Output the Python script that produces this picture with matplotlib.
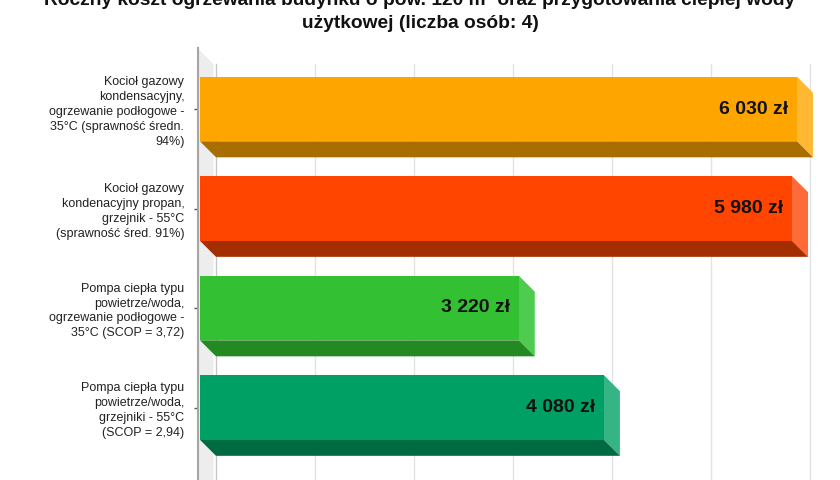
import matplotlib
matplotlib.use("Agg")
import matplotlib.pyplot as plt
from matplotlib.patches import Polygon, Rectangle

plt.rcParams['font.family'] = ['Liberation Sans', 'DejaVu Sans']

# dane
title = ("Roczny koszt ogrzewania budynku o pow. 120 m² oraz przygotowania ciepłej wody\n"
         "użytkowej (liczba osób: 4)")
labels = [
    "Kocioł gazowy\nkondensacyjny,\nogrzewanie podłogowe -\n35°C (sprawność średn.\n94%)",
    "Kocioł gazowy\nkondenacyjny propan,\ngrzejnik - 55°C\n(sprawność śred. 91%)",
    "Pompa ciepła typu\npowietrze/woda,\nogrzewanie podłogowe -\n35°C (SCOP = 3,72)",
    "Pompa ciepła typu\npowietrze/woda,\ngrzejniki - 55°C\n(SCOP = 2,94)",
]
values = [6030, 5980, 3220, 4080]
value_text = ["6 030 zł", "5 980 zł", "3 220 zł", "4 080 zł"]
grid_values = [0, 1000, 2000, 3000, 4000, 5000, 6000]

front_col = ['#FFA500', '#FF4500', '#33C133', '#00A064']
bottom_col = ['#A86E00', '#A32E00', '#238A23', '#006B42']
side_col = ['#FFB833', '#FF6B38', '#4FCC4F', '#35B585']

# uklad (piksele -> jednostki danych)
px_x = 0.099          # px na jednostke osi X
px_y = 99.5           # px na kategorie
depth_x = 16 / px_x
depth_y = 16 / px_y
half_h = 0.325

fig = plt.figure(figsize=(8.4, 4.8), dpi=100)
ax = fig.add_axes([197.5 / 840, 0, (840 - 197.5) / 840, (480 - 48) / 480])
x0 = -2.5 / px_x
x1 = (840 - 200) / px_x
ytop = (48 - 109) / px_y
ybot = (480 - 109) / px_y
ax.set_xlim(x0, x1)
ax.set_ylim(ybot, ytop)

# sciana boczna
ax.add_patch(Polygon([(x0, ytop), (x0 + depth_x, ytop + depth_y),
                      (x0 + depth_x, ybot), (x0, ybot)],
                     closed=True, facecolor='#EDEDED', edgecolor='none', zorder=0))

# siatka na tylnej scianie
for g in grid_values:
    c = '#C8C8C8' if g == 0 else '#E2E2E2'
    ax.plot([g + depth_x, g + depth_x], [ytop + depth_y, ybot], color=c, lw=1, zorder=1)

for i, v in enumerate(values):
    top = i - half_h
    bot = i + half_h
    ax.add_patch(Polygon([(v, top), (v + depth_x, top + depth_y),
                          (v + depth_x, bot + depth_y), (v, bot)],
                         closed=True, facecolor=side_col[i], edgecolor='none', zorder=2))
    ax.add_patch(Polygon([(0, bot), (v, bot), (v + depth_x, bot + depth_y),
                          (depth_x, bot + depth_y)],
                         closed=True, facecolor=bottom_col[i], edgecolor='none', zorder=2))
    ax.add_patch(Rectangle((0, top), v, bot - top, facecolor=front_col[i],
                           edgecolor='none', zorder=3))
    ax.text(v - 9 / px_x, i, value_text[i], ha='right', va='center',
            fontsize=14, fontweight='bold', color='#111111', zorder=4)

ax.set_yticks(range(len(labels)))
ax.set_yticklabels(labels, fontsize=9, color='#222222', linespacing=1.32)
ax.tick_params(axis='y', length=3, width=1, color='#555555', pad=6.5)
ax.set_xticks([])
for s in ['top', 'right', 'bottom']:
    ax.spines[s].set_visible(False)
ax.spines['left'].set_color('#A5A5A5')
ax.spines['left'].set_linewidth(1.5)

fig.text(0.5, 1 - 32 / 480, title, ha='center', va='bottom',
         fontsize=13.8, fontweight='bold', color='#111111', linespacing=1.45)

fig.savefig("out.png", dpi=100)
